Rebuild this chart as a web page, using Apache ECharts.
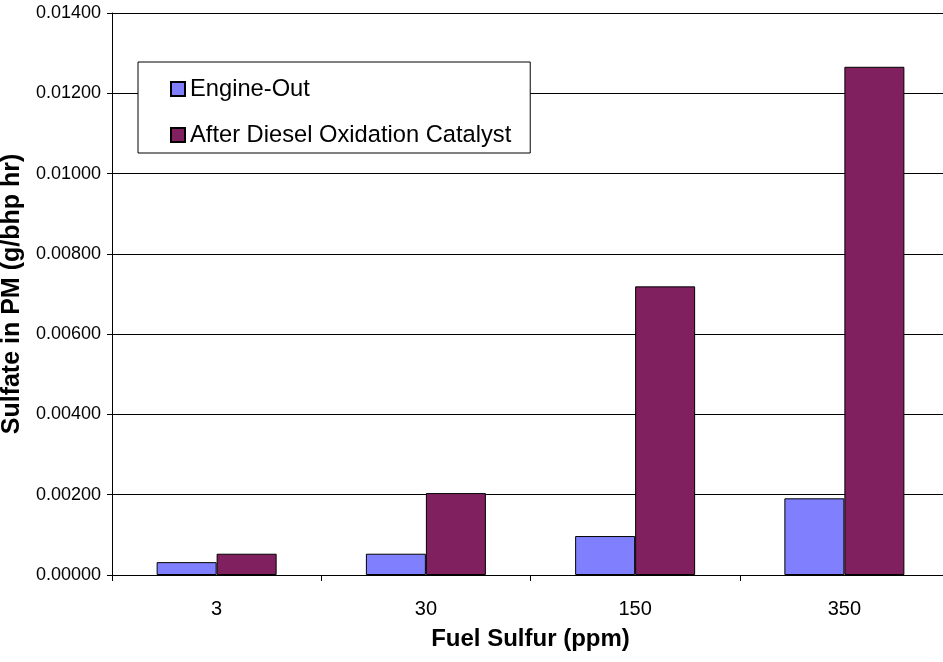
<!DOCTYPE html>
<html>
<head>
<meta charset="utf-8">
<script src="https://cdn.jsdelivr.net/npm/echarts@6/dist/echarts.min.js"></script>
<style>
html,body{margin:0;padding:0;background:#fff;}
#chart{width:943px;height:662px;}
</style>
</head>
<body>
<div id="chart"></div>
<script>
var categories = ['3', '30', '150', '350'];
var engineOut = [0.00032, 0.00053, 0.00097, 0.00191];
var afterDOC = [0.00053, 0.00204, 0.00719, 0.01266];
var seriesNames = ['Engine-Out', 'After Diesel Oxidation Catalyst'];
var yMin = 0, yMax = 0.014, yStep = 0.002;

var FONT = 'Arial, "Liberation Sans", sans-serif';
var chart = echarts.init(document.getElementById('chart'), null, {renderer: 'canvas'});
chart.setOption({
  animation: false,
  backgroundColor: '#ffffff',
  textStyle: {fontFamily: FONT, color: '#000'},
  grid: {left: 112, top: 13, width: 837, bottom: 87, containLabel: false, outerBoundsMode: 'none'},
  legend: {
    orient: 'vertical',
    left: 138, top: 62,
    padding: [15, 19, 6, 32],
    itemGap: 22,
    itemWidth: 14, itemHeight: 14,
    borderColor: '#000', borderWidth: 1,
    backgroundColor: '#fff',
    icon: 'rect',
    textStyle: {fontFamily: FONT, fontSize: 23.7, color: '#000'},
    data: seriesNames
  },
  xAxis: {
    type: 'category',
    data: categories,
    name: 'Fuel Sulfur (ppm)',
    nameLocation: 'middle',
    nameGap: 52,
    nameTextStyle: {fontFamily: FONT, fontSize: 24, fontWeight: 'bold', color: '#000'},
    axisLine: {lineStyle: {color: '#000', width: 1}},
    axisTick: {show: true, length: 6, lineStyle: {color: '#000'}},
    axisLabel: {fontFamily: FONT, fontSize: 20, color: '#000', margin: 24},
    splitLine: {show: false}
  },
  yAxis: {
    type: 'value',
    min: yMin, max: yMax, interval: yStep,
    name: 'Sulfate in PM (g/bhp hr)',
    nameLocation: 'middle',
    nameGap: 78,
    nameRotate: 90,
    nameTextStyle: {fontFamily: FONT, fontSize: 25, fontWeight: 'bold', color: '#000'},
    axisLine: {show: true, lineStyle: {color: '#000', width: 1}},
    axisTick: {show: true, length: 5, lineStyle: {color: '#000'}},
    axisLabel: {fontFamily: FONT, fontSize: 18, color: '#000', margin: 11,
      formatter: function (v) { return v.toFixed(5); }},
    splitLine: {show: true, lineStyle: {color: '#000', width: 1}}
  },
  series: [
    {
      name: seriesNames[0], type: 'bar', data: engineOut,
      barWidth: 60, barGap: '0%',
      itemStyle: {color: '#8080FF', borderColor: '#000', borderWidth: 1}
    },
    {
      name: seriesNames[1], type: 'bar', data: afterDOC,
      barWidth: 60, barGap: '0%',
      itemStyle: {color: '#80205F', borderColor: '#000', borderWidth: 1}
    }
  ]
});
</script>
</body>
</html>
